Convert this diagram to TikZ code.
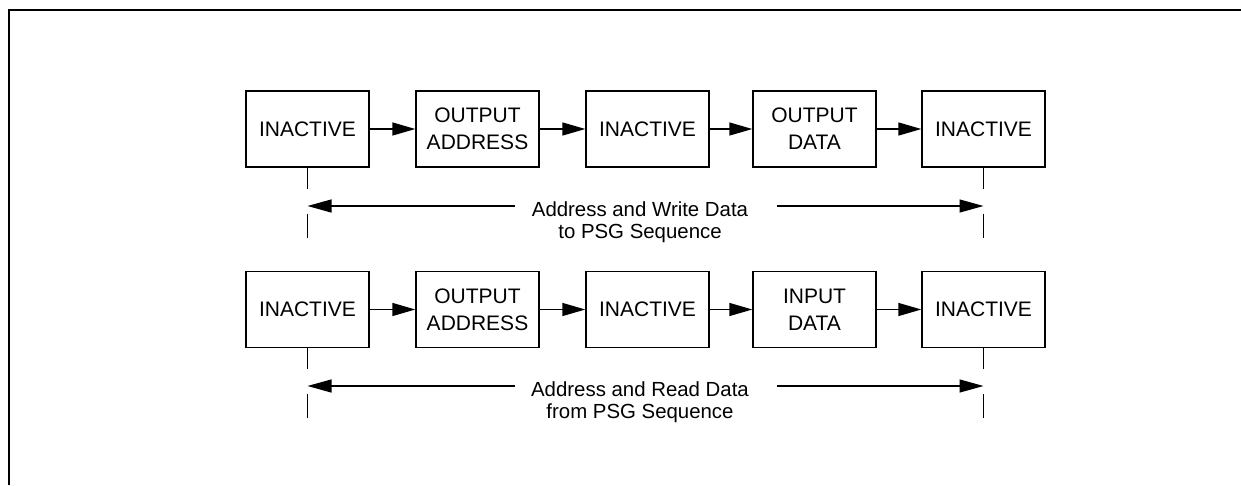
\documentclass[tikz,border=0pt]{standalone}
\usepackage{fontspec}
\setmainfont{Liberation Sans}
\usetikzlibrary{arrows.meta}
\begin{document}
\begin{tikzpicture}[x=1pt,y=-1pt,
  statebox/.style={draw,line width=1.4pt,minimum width=123pt,minimum height=76pt,inner sep=0pt,align=center,
    font=\fontsize{21}{27}\selectfont},
  flow/.style={line width=1.4pt,-{Triangle[length=23pt,width=13pt]}},
  dim/.style={line width=1.2pt,-{Triangle[length=24pt,width=13pt]}},
  tick/.style={line width=1.2pt},
  dimlabel/.style={align=center,inner sep=0pt,font=\fontsize{20.4}{22}\selectfont}]
\useasboundingbox (0,0) rectangle (1241,485);
\draw[line width=2pt] (8.5,485) -- (8.5,9.5) -- (1241,9.5);
% row 1
\node[statebox] (a1) at (307.5,129) {INACTIVE};
\node[statebox] (a2) at (477.5,129) {OUTPUT\\ADDRESS};
\node[statebox] (a3) at (647.5,129) {INACTIVE};
\node[statebox] (a4) at (814.5,129) {OUTPUT\\DATA};
\node[statebox] (a5) at (983.5,129) {INACTIVE};
\draw[flow] (a1) -- (a2);
\draw[flow] (a2) -- (a3);
\draw[flow] (a3) -- (a4);
\draw[flow] (a4) -- (a5);
\draw[tick] (a1.south) -- ++(0,21);
\draw[tick] (a1.south) ++(0,46) -- ++(0,24);
\draw[tick] (a5.south) -- ++(0,21);
\draw[tick] (a5.south) ++(0,46) -- ++(0,24);
\node[dimlabel,anchor=base] (t1) at (640,238) {Address and Write Data\\to PSG Sequence};
\coordinate (d1l) at (515,206);
\coordinate (d1r) at (777,206);
\draw[dim] (d1l) -- (d1l -| a1.south);
\draw[dim] (d1r) -- (d1r -| a5.south);
% row 2
\node[statebox] (b1) at (307.5,309.5) {INACTIVE};
\node[statebox] (b2) at (477.5,309.5) {OUTPUT\\ADDRESS};
\node[statebox] (b3) at (647.5,309.5) {INACTIVE};
\node[statebox] (b4) at (814.5,309.5) {INPUT\\DATA};
\node[statebox] (b5) at (983.5,309.5) {INACTIVE};
\draw[flow] (b1) -- (b2);
\draw[flow] (b2) -- (b3);
\draw[flow] (b3) -- (b4);
\draw[flow] (b4) -- (b5);
\draw[tick] (b1.south) -- ++(0,21);
\draw[tick] (b1.south) ++(0,46) -- ++(0,24);
\draw[tick] (b5.south) -- ++(0,21);
\draw[tick] (b5.south) ++(0,46) -- ++(0,24);
\node[dimlabel,anchor=base] (t2) at (640,418) {Address and Read Data\\from PSG Sequence};
\coordinate (d2l) at (515,386);
\coordinate (d2r) at (777,386);
\draw[dim] (d2l) -- (d2l -| b1.south);
\draw[dim] (d2r) -- (d2r -| b5.south);
\end{tikzpicture}
\end{document}
